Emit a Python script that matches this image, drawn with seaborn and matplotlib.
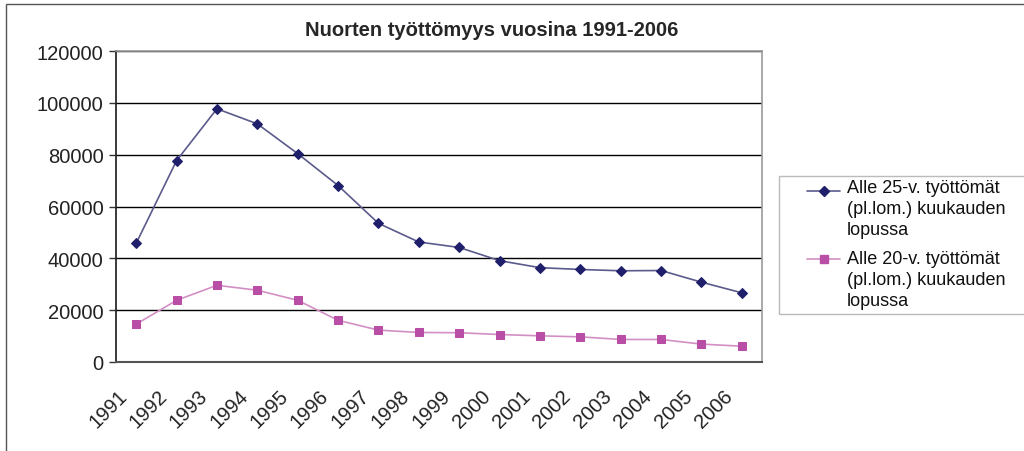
import matplotlib
matplotlib.use("Agg")
import matplotlib.pyplot as plt
import matplotlib.patches as mpatches
import matplotlib.transforms as mtransforms
from matplotlib.lines import Line2D
import pandas as pd
import seaborn as sns

years = [str(y) for y in range(1991, 2007)]
alle25 = [45800, 77700, 97700, 91900, 80400, 68100, 53500, 46300,
          44200, 39100, 36400, 35700, 35200, 35300, 30800, 26700]
alle20 = [14600, 23800, 29600, 27700, 23800, 16100, 12300, 11400,
          11300, 10600, 10100, 9700, 8700, 8700, 6900, 6100]
label25 = "Alle 25-v. työttömät\n(pl.lom.) kuukauden\nlopussa"
label20 = "Alle 20-v. työttömät\n(pl.lom.) kuukauden\nlopussa"

sns.set_theme(style="white")
plt.rcParams['font.family'] = ['Liberation Sans', 'DejaVu Sans']

W, H = 1024, 452
df = pd.DataFrame({"pos": range(len(years)), "Vuosi": years,
                   "a25": alle25, "a20": alle20})

fig = plt.figure(figsize=(W / 100, H / 100), dpi=100)
ax = fig.add_axes([116 / W, 1 - 363 / H, 646 / W, 311 / H])

style25 = dict(color="#5a5a8c", lw=1.2, marker="D", markersize=5.5,
               markerfacecolor="#1f1f6b", markeredgecolor="#1f1f6b")
style20 = dict(color="#d38fc4", lw=1.2, marker="s", markersize=6,
               markerfacecolor="#b84ea5", markeredgecolor="#b84ea5")
sns.lineplot(data=df, x="pos", y="a25", ax=ax, legend=False, **style25)
sns.lineplot(data=df, x="pos", y="a20", ax=ax, legend=False, **style20)

ax.set_xlim(-0.5, len(years) - 0.5)
ax.set_ylim(0, 120000)
ax.set_yticks(range(0, 120001, 20000))
ax.set_yticklabels([str(v) for v in range(0, 120001, 20000)], fontsize=14.5, color="#222222")
ax.set_xticks(df["pos"])
ax.set_xticklabels([])
# rotated year labels, placed like the Excel category axis
off = mtransforms.ScaledTranslation(-19 / 100, -24 / 100, fig.dpi_scale_trans)
for p, y in zip(df["pos"], years):
    ax.text(p, 0, y, transform=ax.get_xaxis_transform() + off, rotation=45,
            rotation_mode="anchor", ha="right", va="top", fontsize=14.5, color="#222222")
ax.tick_params(axis="x", length=0)
ax.tick_params(axis="y", length=5, width=1, color="#333333", left=True, pad=4)
ax.set_xlabel("")
ax.set_ylabel("")
ax.yaxis.grid(True, color="black", lw=1)
ax.set_axisbelow(True)
for s in ["top", "right"]:
    ax.spines[s].set_color("#999999")
    ax.spines[s].set_linewidth(1.2)
ax.spines["left"].set_color("#222222")
ax.spines["bottom"].set_color("#555555")
ax.spines["bottom"].set_linewidth(1.5)

fig.text(492 / W, 1 - 30 / H, "Nuorten työttömyys vuosina 1991-2006",
         ha="center", va="center", fontsize=14.5, fontweight="bold")

# legend box, handle aligned with first text line
fig.patches.append(mpatches.Rectangle((779 / W, 1 - 315 / H), 260 / W, 138 / H,
                                      transform=fig.transFigure, fill=False,
                                      edgecolor="#bbbbbb", lw=1))
for lab, st, hy, ty in [(label25, style25, 192, 180), (label20, style20, 260, 251)]:
    fig.lines.append(Line2D([807 / W, 823.5 / W, 840 / W], [1 - hy / H] * 3,
                            transform=fig.transFigure, markevery=[1], **st))
    fig.text(847 / W, 1 - ty / H, lab, ha="left", va="top", fontsize=13,
             linespacing=1.3, color="#111111")

fig.patches.append(mpatches.Rectangle((6 / W, -0.1), 1.2, 1 - 5 / H + 0.1,
                                      transform=fig.transFigure, fill=False,
                                      edgecolor="#555555", lw=1))

fig.savefig("out.png", dpi=100)
